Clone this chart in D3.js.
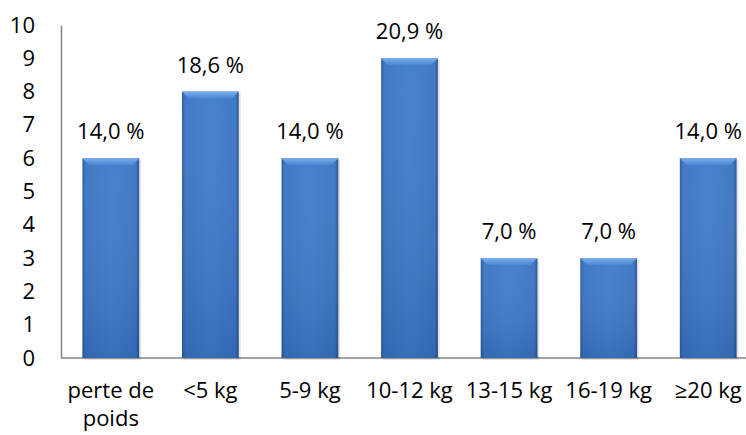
<!DOCTYPE html>
<html>
<head>
<meta charset="utf-8">
<script src="https://cdn.jsdelivr.net/npm/d3@7"></script>
<style>
body { margin: 0; background: #fff; }
text { font-family: "Open Sans", "Noto Sans", sans-serif; }
</style>
</head>
<body>
<div id="chart"></div>
<script>
var categories = ["perte de poids", "<5 kg", "5-9 kg", "10-12 kg", "13-15 kg", "16-19 kg", "≥20 kg"];
var counts = [6, 8, 6, 9, 3, 3, 6];
var percentLabels = ["14,0 %", "18,6 %", "14,0 %", "20,9 %", "7,0 %", "7,0 %", "14,0 %"];
var yTicks = [0, 1, 2, 3, 4, 5, 6, 7, 8, 9, 10];

var width = 746, height = 435;
var margin = {top: 25, left: 61, bottom: 77};
var fontSize = "22px";

var svg = d3.select("#chart").append("svg")
    .attr("width", width)
    .attr("height", height);

var defs = svg.append("defs");
var grad = defs.append("linearGradient").attr("id", "barGrad")
    .attr("x1", "0").attr("x2", "1").attr("y1", "0").attr("y2", "0");
grad.append("stop").attr("offset", "0").attr("stop-color", "#2a5a9c");
grad.append("stop").attr("offset", "0.06").attr("stop-color", "#3a74c2");
grad.append("stop").attr("offset", "0.5").attr("stop-color", "#3f7ccc");
grad.append("stop").attr("offset", "0.94").attr("stop-color", "#3a74c2");
grad.append("stop").attr("offset", "1").attr("stop-color", "#284f8c");

var vgrad = defs.append("linearGradient").attr("id", "barShade")
    .attr("x1", "0").attr("x2", "0").attr("y1", "0").attr("y2", "1");
vgrad.append("stop").attr("offset", "0").attr("stop-color", "#fff").attr("stop-opacity", 0.04);
vgrad.append("stop").attr("offset", "1").attr("stop-color", "#0a2a5a").attr("stop-opacity", 0.16);

var bevGrad = defs.append("linearGradient").attr("id", "bevGrad")
    .attr("x1", "0").attr("x2", "0").attr("y1", "0").attr("y2", "1");
bevGrad.append("stop").attr("offset", "0").attr("stop-color", "#7aaeee");
bevGrad.append("stop").attr("offset", "1").attr("stop-color", "#4a86d2");

var x = d3.scaleBand()
    .domain(categories)
    .range([margin.left, 758])
    .paddingInner(0.43)
    .paddingOuter(0.215);

var y = d3.scaleLinear()
    .domain([0, 10])
    .range([height - margin.bottom, margin.top]);

// y axis
var yAxis = svg.append("g")
    .attr("transform", "translate(" + margin.left + ",0)")
    .call(d3.axisLeft(y).tickValues(yTicks).tickSize(0).tickPadding(26));
yAxis.select(".domain").attr("stroke", "#868686").attr("stroke-width", 1.5);
yAxis.selectAll("text").style("font-size", fontSize).style("font-family", "'Open Sans', sans-serif").attr("fill", "#000");

// x axis line
svg.append("line")
    .attr("x1", margin.left).attr("x2", width)
    .attr("y1", y(0)).attr("y2", y(0))
    .attr("stroke", "#868686").attr("stroke-width", 1.5);

// bars
var bars = svg.selectAll(".bar").data(counts).enter().append("g").attr("class", "bar");

bars.append("rect")
    .attr("x", function(d, i) { return x(categories[i]) + 2; })
    .attr("y", function(d) { return y(d) + 2; })
    .attr("width", x.bandwidth())
    .attr("height", function(d) { return y(0) - y(d); })
    .attr("fill", "#000").attr("opacity", 0.1);

bars.append("rect")
    .attr("x", function(d, i) { return x(categories[i]); })
    .attr("y", function(d) { return y(d); })
    .attr("width", x.bandwidth())
    .attr("height", function(d) { return y(0) - y(d); })
    .attr("fill", "url(#barGrad)");

bars.append("rect")
    .attr("x", function(d, i) { return x(categories[i]); })
    .attr("y", function(d) { return y(d); })
    .attr("width", x.bandwidth())
    .attr("height", function(d) { return y(0) - y(d); })
    .attr("fill", "url(#barShade)");

// top bevel
var bev = 7;
bars.append("path")
    .attr("d", function(d, i) {
        var x0 = x(categories[i]), x1 = x0 + x.bandwidth(), t = y(d);
        return "M" + x0 + "," + t + "L" + x1 + "," + t +
            "L" + (x1 - bev) + "," + (t + bev) + "L" + (x0 + bev) + "," + (t + bev) + "Z";
    })
    .attr("fill", "url(#bevGrad)");

// data labels
svg.selectAll(".lbl").data(counts).enter().append("text")
    .attr("class", "lbl")
    .attr("x", function(d, i) { return x(categories[i]) + x.bandwidth() / 2; })
    .attr("y", function(d) { return y(d) - 19; })
    .attr("text-anchor", "middle")
    .style("font-size", fontSize)
    .text(function(d, i) { return percentLabels[i]; });

// category labels
var catText = svg.selectAll(".cat").data(categories).enter().append("text")
    .attr("class", "cat")
    .attr("x", function(d) { return x(d) + x.bandwidth() / 2; })
    .attr("y", y(0) + 40)
    .attr("text-anchor", "middle")
    .style("font-size", fontSize);

catText.each(function(d) {
    var t = d3.select(this);
    var parts = d === "perte de poids" ? ["perte de", "poids"] : [d];
    parts.forEach(function(p, k) {
        t.append("tspan")
            .attr("x", t.attr("x"))
            .attr("dy", k === 0 ? 0 : 28)
            .text(p);
    });
});
</script>
</body>
</html>
